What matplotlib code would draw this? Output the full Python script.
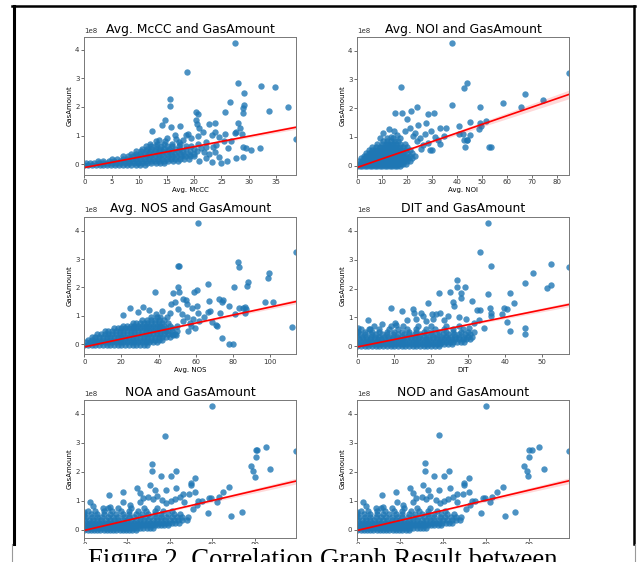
import numpy as np
import matplotlib.pyplot as plt
from matplotlib.lines import Line2D
from matplotlib.patches import Rectangle
from matplotlib.ticker import MultipleLocator

plt.rcParams['font.family'] = ['DejaVu Sans']

# GasAmount values are in units of 1e8
# isolated points (x, y) and the dense cluster as rows (y, [x values])

# ---- Avg. McCC ----
mccc_pts = [
    (27.5, 4.23), (18.8, 3.23), (28.0, 2.84), (32.2, 2.72), (34.7, 2.69),
    (29.2, 2.49), (15.7, 2.28), (15.6, 2.02), (29.2, 2.08), (28.9, 1.98),
    (29.0, 1.80), (26.6, 2.17), (25.7, 1.81), (33.6, 1.87), (37.1, 2.00),
    (20.3, 1.81), (20.7, 1.76), (20.4, 1.56), (20.5, 1.40), (14.7, 1.53),
    (14.2, 1.37), (17.5, 1.34), (15.8, 1.31), (12.3, 1.16), (28.0, 1.43),
    (28.3, 1.28), (22.7, 1.40), (23.8, 1.43), (21.0, 1.28), (21.6, 1.14),
    (23.8, 1.14), (23.3, 1.02), (25.7, 1.04), (27.4, 1.08), (27.7, 1.11),
    (28.8, 1.06), (38.6, 0.88), (29.4, 0.58), (29.0, 0.61), (32.1, 0.58),
    (30.4, 0.48), (22.1, 0.22), (23.3, 0.08), (25.0, 0.05), (26.0, 0.11),
    (27.7, 0.22), (28.9, 0.25), (16.5, 1.02), (16.8, 0.88), (18.5, 1.02),
    (18.9, 1.06), (18.0, 0.85), (22.1, 0.79), (22.2, 0.61), (23.5, 0.61),
    (24.1, 0.67), (25.4, 0.81), (26.2, 0.55), (19.5, 0.92), (20.8, 0.70),
    (21.2, 0.55), (21.8, 0.42), (22.8, 0.35), (23.9, 0.43), (24.6, 0.25),
    (21.0, 0.12), (19.4, 0.62), (17.2, 0.78), (15.0, 0.93), (13.6, 0.86),
    (20.8, 0.98), (24.5, 0.95), (26.8, 0.80),
]
mccc_rows = [
    (-0.02, [0, 0.7, 1.4, 2.1, 2.8, 3.5, 4.2, 4.9, 5.6, 6.3, 7.0, 7.8, 8.6, 9.4, 10.2, 11.0]),
    (0.04, [0.3, 1.0, 1.8, 2.6, 3.4, 4.2, 5.0, 5.8, 6.6, 7.4, 8.2, 9.0, 9.8, 10.6, 11.4, 12.2, 13.0, 13.8, 14.6]),
    (0.10, [2.5, 3.5, 4.5, 5.5, 6.5, 7.3, 8.1, 8.9, 9.7, 10.5, 11.3, 12.1, 12.9, 13.7, 14.5, 15.3, 16.1, 17.0]),
    (0.18, [5.0, 6.0, 7.0, 7.8, 8.6, 9.4, 10.2, 11.0, 11.8, 12.6, 13.4, 14.2, 15.0, 15.8, 16.6, 17.4, 18.2, 19.0]),
    (0.27, [7.0, 8.0, 8.8, 9.6, 10.4, 11.2, 12.0, 12.8, 13.6, 14.4, 15.2, 16.0, 16.8, 17.6, 18.4, 19.2, 20.0]),
    (0.36, [8.5, 9.4, 10.2, 11.0, 11.8, 12.6, 13.4, 14.2, 15.0, 15.8, 16.6, 17.4, 18.2, 19.0, 20.0]),
    (0.45, [9.5, 10.4, 11.2, 12.0, 12.8, 13.6, 14.4, 15.2, 16.0, 17.0, 18.0, 19.2, 20.5]),
    (0.54, [10.5, 11.4, 12.2, 13.0, 13.8, 14.6, 15.5, 16.5, 17.5, 18.6, 20.0]),
    (0.63, [11.3, 12.2, 13.0, 14.0, 15.0, 16.0, 17.2, 18.5]),
    (0.72, [12.0, 13.2, 14.5, 16.0, 17.5]),
    (0.80, [13.0, 14.8]),
]
mccc_fit_x = [0, 10, 38.6]
mccc_fit_y = [-0.12, 0.245, 1.29]
mccc_fit_hw = [0.025, 0.01, 0.07]

# ---- Avg. NOI ----
noi_pts = [
    (38.0, 4.26), (17.5, 2.75), (44.2, 2.86), (42.8, 2.72), (38.2, 2.11),
    (67.2, 2.51), (74.7, 2.30), (85.0, 3.24), (58.4, 2.18), (65.9, 2.04),
    (49.4, 2.04), (24.0, 2.03), (15.3, 1.82), (17.9, 1.82), (21.7, 1.89),
    (28.4, 1.81), (30.8, 1.83), (20.1, 1.62), (45.1, 1.53), (40.8, 1.37),
    (33.1, 1.30), (35.5, 1.30), (49.1, 1.48), (49.8, 1.39), (48.9, 1.27),
    (51.8, 1.54), (24.4, 1.42), (27.7, 1.48), (12.7, 1.27), (14.6, 1.22),
    (19.0, 1.19), (10.3, 1.12), (9.0, 0.98), (40.8, 1.10), (42.4, 1.10),
    (42.8, 0.89), (44.2, 0.89), (43.2, 0.66), (52.7, 0.64), (53.5, 0.64),
    (30.1, 0.56), (29.0, 0.54), (25.0, 0.98), (27.0, 1.10), (32.4, 0.89),
    (33.3, 0.75), (25.4, 0.58), (24.0, 0.85), (26.2, 0.72), (28.2, 0.80),
    (22.5, 1.02), (23.2, 1.15), (21.0, 1.30), (29.5, 1.20), (31.2, 1.00),
    (35.0, 1.02), (16.0, 1.05), (13.5, 1.00), (45.3, 1.07), (44.0, 0.90),
]
noi_rows = [
    (-0.02, [0, 1, 2, 3, 4, 5, 6, 7, 8, 9, 10, 11, 12, 13, 14, 15, 16, 17]),
    (0.06, [0.5, 1.5, 2.5, 3.5, 4.5, 5.5, 6.5, 7.5, 8.5, 9.5, 10.5, 11.5, 12.5, 13.5, 14.5, 15.5, 16.5, 17.5, 18.5, 19.5]),
    (0.15, [0.8, 1.8, 2.8, 3.8, 4.8, 5.8, 6.8, 7.8, 8.8, 9.8, 10.8, 11.8, 12.8, 13.8, 14.8, 15.8, 16.8, 17.8, 18.8, 19.8, 21.0]),
    (0.25, [1.5, 2.5, 3.5, 4.5, 5.5, 6.5, 7.5, 8.5, 9.5, 10.5, 11.5, 12.5, 13.5, 14.5, 15.5, 16.5, 17.5, 18.5, 19.5, 20.5, 22.0]),
    (0.35, [2.5, 3.5, 4.5, 5.5, 6.5, 7.5, 8.5, 9.5, 10.5, 11.5, 12.5, 13.5, 14.5, 15.5, 16.5, 17.5, 18.5, 19.5, 21.0, 23.0]),
    (0.45, [3.5, 4.5, 5.5, 6.5, 7.5, 8.5, 9.5, 10.5, 11.5, 12.5, 13.5, 14.5, 15.5, 16.5, 17.5, 18.5, 20.0, 22.0]),
    (0.55, [4.5, 6.0, 7.0, 8.0, 9.0, 10.0, 11.0, 12.0, 13.0, 14.0, 15.0, 16.0, 17.0, 18.0, 19.5, 21.0]),
    (0.65, [6.0, 7.5, 9.0, 10.0, 11.0, 12.0, 13.0, 14.0, 15.0, 16.0, 17.0, 18.5, 20.0]),
    (0.75, [8.0, 10.0, 11.5, 12.5, 13.5, 14.5, 15.5, 17.0, 19.0]),
    (0.85, [10.5, 12.0, 13.5, 15.0, 16.5]),
    (0.95, [12.0, 14.5, 17.0]),
]
noi_fit_x = [0, 10, 85.0]
noi_fit_y = [-0.06, 0.24, 2.48]
noi_fit_hw = [0.03, 0.01, 0.15]

# ---- Avg. NOS ----
nos_pts = [
    (61.0, 4.28), (50.3, 2.77), (51.0, 2.75), (82.6, 2.88), (83.5, 2.73),
    (99.6, 2.52), (98.7, 2.32), (88.3, 2.18), (87.4, 2.05), (80.8, 2.03),
    (114.0, 3.26), (66.4, 2.11), (50.6, 2.03), (51.2, 1.83), (38.1, 1.82),
    (47.6, 1.80), (60.5, 1.89), (59.3, 1.84), (54.8, 1.56), (21.0, 1.01),
    (24.6, 1.29), (29.1, 1.13), (31.8, 1.30), (34.8, 1.21), (48.8, 1.47),
    (74.9, 1.56), (74.3, 1.48), (78.1, 1.36), (83.5, 1.27), (86.5, 1.09),
    (85.5, 1.27), (87.0, 1.25), (101.8, 1.47), (66.8, 1.12), (67.8, 1.15),
    (73.1, 1.09), (70.9, 0.68), (71.6, 0.62), (61.4, 1.09), (58.7, 0.88),
    (112.0, 0.59), (74.0, 0.21), (77.9, 0.0), (80.2, 0.0), (59.6, 0.56),
    (56.9, 0.74), (50.1, 0.62), (44.0, 0.45), (47.9, 0.33), (49.5, 0.33),
    (55.1, 1.41), (57.8, 1.29), (60.5, 1.35), (67.4, 1.52), (72.3, 1.58),
    (81.2, 1.05), (86.6, 1.32), (97.3, 1.47), (46.5, 1.41), (50.7, 1.23),
    (53.4, 1.58), (52.5, 1.05), (55.5, 0.95), (53.0, 0.80), (46.0, 1.10),
    (44.5, 0.95), (42.0, 1.15), (38.5, 1.05), (57.5, 0.62), (62.0, 0.80),
    (64.5, 0.95), (69.0, 0.78), (56.0, 0.45),
]
nos_rows = [
    (-0.02, [0, 2, 4, 6, 8, 10, 12, 14, 16, 18, 20, 22, 24, 26, 28, 30, 32, 34]),
    (0.06, [1, 3, 5, 7, 9, 11, 13, 15, 17, 19, 21, 23, 25, 27, 29, 31, 33, 35, 37, 39]),
    (0.15, [2, 4, 6, 8, 10, 12, 14, 16, 18, 20, 22, 24, 26, 28, 30, 32, 34, 36, 38, 40, 42]),
    (0.25, [4, 6, 8, 10, 12, 14, 16, 18, 20, 22, 24, 26, 28, 30, 32, 34, 36, 38, 40, 42, 44, 46]),
    (0.35, [7, 9, 11, 13, 15, 17, 19, 21, 23, 25, 27, 29, 31, 33, 35, 37, 39, 41, 43, 45, 47, 49]),
    (0.45, [11, 13, 15, 17, 19, 21, 23, 25, 27, 29, 31, 33, 35, 37, 39, 41, 43, 45, 47, 50]),
    (0.55, [16, 18, 20, 22, 24, 26, 28, 30, 32, 34, 36, 38, 40, 42, 44, 47]),
    (0.65, [21, 23, 25, 27, 29, 31, 33, 35, 37, 39, 41, 43, 46]),
    (0.75, [26, 28, 30, 32, 34, 36, 38, 40, 42, 45]),
    (0.85, [31, 34, 36, 38, 40, 43]),
    (0.95, [36, 39, 41]),
]
nos_fit_x = [0, 30, 114.0]
nos_fit_y = [-0.10, 0.32, 1.50]
nos_fit_hw = [0.03, 0.01, 0.08]

# ---- DIT ----
dit_pts = [
    (35.3, 4.28), (33.2, 3.26), (36.2, 2.77), (52.4, 2.86), (52.4, 2.14),
    (51.3, 2.03), (47.6, 2.54), (45.4, 2.20), (57.3, 2.74), (27.1, 2.31),
    (27.1, 2.06), (29.2, 2.06), (22.2, 1.86), (25.2, 1.89), (28.2, 1.86),
    (35.3, 1.82), (41.3, 1.86), (42.5, 1.49), (25.9, 1.53), (26.2, 1.40),
    (28.2, 1.66), (31.1, 1.57), (19.2, 1.49), (9.2, 1.31), (12.2, 1.23),
    (15.1, 1.28), (15.3, 1.17), (17.2, 1.17), (17.8, 1.05), (20.1, 1.11),
    (21.2, 1.11), (22.3, 1.17), (32.3, 1.26), (33.2, 1.26), (35.9, 1.34),
    (36.3, 1.17), (36.1, 1.05), (39.8, 1.31), (40.4, 1.28), (39.1, 1.11),
    (40.4, 0.85), (34.4, 0.65), (45.4, 0.62), (45.4, 0.42), (41.3, 0.54),
    (2.9, 0.92), (6.8, 0.77), (0.2, 0.65), (0.2, 0.48), (3.2, 0.60),
    (10.1, 0.82), (10.6, 0.74), (13.5, 0.92), (16.0, 0.95), (18.5, 0.88),
    (20.5, 0.95), (23.5, 0.90), (24.5, 1.05), (27.5, 1.00), (29.5, 0.95),
    (31.5, 0.80), (33.0, 0.90), (30.2, 0.62), (31.5, 0.50),
]
dit_rows = [
    (0.0, [0, 1, 2, 3, 4, 5, 6, 7, 8, 9, 10, 11, 12, 13, 14, 15, 16, 17, 18, 19, 20, 21, 22]),
    (0.08, [0.5, 1.5, 2.5, 3.5, 4.5, 5.5, 6.5, 7.5, 8.5, 9.5, 10.5, 11.5, 12.5, 13.5, 14.5, 15.5,
            16.5, 17.5, 18.5, 19.5, 20.5, 21.5, 22.5, 23.5, 24.5, 25.5]),
    (0.16, [0, 1, 2, 3, 4, 5, 6, 7, 8, 9, 10, 11, 12, 13, 14, 15, 16, 17, 18, 19, 20, 21, 22, 23,
            24, 25, 26, 27, 28, 29]),
    (0.24, [0.5, 1.5, 2.5, 3.5, 4.5, 5.5, 6.5, 7.5, 8.5, 9.5, 10.5, 11.5, 12.5, 13.5, 14.5, 15.5,
            16.5, 17.5, 18.5, 19.5, 20.5, 21.5, 22.5, 23.5, 24.5, 25.5, 26.5, 27.5, 28.5, 29.5, 30.5]),
    (0.32, [0, 1.2, 2.4, 3.6, 4.8, 6.0, 7.2, 8.4, 9.6, 10.8, 12.0, 13.2, 14.4, 15.6, 16.8, 18.0,
            19.2, 20.4, 21.6, 22.8, 24.0, 25.2, 26.4, 27.6, 28.8, 30.0, 31.0]),
    (0.41, [0.6, 2.1, 3.6, 5.1, 6.6, 8.1, 9.6, 11.1, 12.6, 14.1, 15.6, 17.1, 18.6, 20.1, 21.6,
            23.1, 24.6, 26.1, 27.6, 29.1, 30.5]),
    (0.50, [0, 2, 4, 6, 8, 10, 12, 14, 16, 18, 20, 22, 24, 26, 28, 30]),
    (0.60, [1.0, 3.5, 6.0, 8.5, 11.0, 13.5, 16.0, 18.5, 21.0, 23.5, 26.0, 28.5]),
    (0.70, [4.5, 9.0, 12.5, 16.5, 20.0, 24.0, 27.5]),
]
dit_fit_x = [0, 15, 57.3]
dit_fit_y = [-0.02, 0.365, 1.45]
dit_fit_hw = [0.03, 0.01, 0.08]

# ---- NOA ----
noa_pts = [
    (60.0, 4.26), (37.8, 3.25), (85.2, 2.85), (80.3, 2.76), (81.1, 2.76),
    (80.3, 2.51), (78.0, 2.19), (78.9, 2.03), (80.0, 1.83), (87.0, 2.11),
    (99.2, 2.71), (31.6, 2.28), (31.6, 2.03), (42.8, 2.02), (35.8, 1.84),
    (40.5, 1.84), (51.9, 1.80), (50.0, 1.63), (50.0, 1.54), (30.8, 1.54),
    (38.1, 1.37), (33.1, 1.37), (24.5, 1.45), (26.1, 1.28), (18.0, 1.29),
    (11.7, 1.20), (43.1, 1.43), (51.9, 1.31), (44.8, 1.14), (42.5, 1.05),
    (40.5, 0.98), (38.5, 0.92), (49.2, 1.23), (58.6, 1.08), (59.4, 1.08),
    (68.0, 1.46), (65.2, 1.31), (62.0, 0.97), (73.8, 0.63), (68.8, 0.49),
    (57.8, 0.57), (2.7, 0.95), (4.2, 0.82), (0.0, 0.63), (0.0, 0.47),
    (8.9, 0.74), (12.0, 0.80), (18.3, 0.95), (21.4, 0.86), (26.1, 0.97),
    (52.7, 0.86), (50.8, 0.70), (32.0, 1.05), (34.0, 1.15), (30.0, 1.12),
    (36.5, 1.02), (27.5, 1.10), (46.5, 0.95), (55.0, 1.00), (63.0, 1.12),
    (46.4, 1.23), (53.4, 0.99),
]
noa_rows = [
    (-0.02, [0, 1.5, 3, 4.5, 6, 7.5, 9, 10.5, 12, 13.5, 15, 16.5, 18, 19.5, 21, 22.5, 24]),
    (0.06, [0.7, 2.2, 3.7, 5.2, 6.7, 8.2, 9.7, 11.2, 12.7, 14.2, 15.7, 17.2, 18.7, 20.2, 21.7,
            23.2, 24.7, 26.2, 27.7, 29.2, 30.7, 32.2]),
    (0.15, [0, 1.5, 3, 4.5, 6, 7.5, 9, 10.5, 12, 13.5, 15, 16.5, 18, 19.5, 21, 22.5, 24, 25.5,
            27, 28.5, 30, 31.5, 33, 34.5, 36, 37.5, 39]),
    (0.25, [0.7, 2.2, 3.7, 5.2, 6.7, 8.2, 9.7, 11.2, 12.7, 14.2, 15.7, 17.2, 18.7, 20.2, 21.7,
            23.2, 24.7, 26.2, 27.7, 29.2, 30.7, 32.2, 33.7, 35.2, 36.7, 38.2, 39.7, 41.2, 42.7, 44.2]),
    (0.35, [0, 2, 4, 6, 8, 10, 12, 14, 16, 18, 20, 22, 24, 26, 28, 30, 32, 34, 36, 38, 40, 42,
            44, 46, 48]),
    (0.45, [1, 3.5, 6, 8.5, 11, 13.5, 16, 18.5, 21, 23.5, 26, 28.5, 31, 33.5, 36, 38.5, 41, 43.5,
            46, 48.5]),
    (0.55, [0, 3, 6, 9, 12, 15, 18, 21, 24, 27, 30, 33, 36, 39, 42, 45]),
    (0.65, [1.5, 5, 9, 13, 17, 21, 25, 29, 33, 37, 41]),
    (0.75, [11, 16, 22, 28, 34]),
]
noa_fit_x = [0, 25, 99.2]
noa_fit_y = [-0.02, 0.41, 1.68]
noa_fit_hw = [0.03, 0.01, 0.10]

# ---- NOD ----
nod_pts = [
    (60.0, 4.26), (38.0, 3.26), (85.0, 2.85), (80.2, 2.76), (81.3, 2.76),
    (80.2, 2.52), (77.8, 2.20), (79.0, 2.03), (79.8, 1.85), (87.3, 2.10),
    (98.8, 2.71), (31.8, 2.30), (31.8, 2.03), (42.9, 2.02), (36.0, 1.85),
    (40.6, 1.85), (52.0, 1.80), (50.0, 1.63), (50.0, 1.54), (30.8, 1.54),
    (38.1, 1.37), (33.1, 1.37), (24.5, 1.45), (26.1, 1.28), (18.0, 1.29),
    (11.7, 1.20), (43.1, 1.43), (51.9, 1.31), (44.8, 1.14), (42.5, 1.05),
    (40.5, 0.98), (38.5, 0.92), (49.2, 1.23), (58.6, 1.08), (59.4, 1.08),
    (68.0, 1.46), (65.2, 1.31), (62.0, 0.97), (73.8, 0.63), (68.8, 0.49),
    (57.8, 0.57), (2.7, 0.95), (4.2, 0.82), (0.0, 0.63), (0.0, 0.47),
    (8.9, 0.74), (12.0, 0.80), (18.3, 0.95), (21.4, 0.86), (26.1, 0.97),
    (52.7, 0.86), (50.8, 0.70), (32.0, 1.05), (34.0, 1.15), (30.0, 1.12),
    (36.5, 1.02), (27.5, 1.10), (46.5, 0.95), (55.0, 1.00), (63.0, 1.12),
    (46.4, 1.23), (53.4, 0.99),
]
nod_rows = noa_rows  # the NOA and NOD clusters read the same off the picture
nod_fit_x = [0, 25, 98.8]
nod_fit_y = [-0.02, 0.41, 1.69]
nod_fit_hw = [0.03, 0.01, 0.10]


def collect(pts, rows):
    xs = [p[0] for p in pts]
    ys = [p[1] for p in pts]
    for y, row in rows:
        xs += row
        ys += [y] * len(row)
    return np.array(xs, dtype=float), np.array(ys, dtype=float) * 1e8


panels = [
    ('Avg. McCC', mccc_pts, mccc_rows, mccc_fit_x, mccc_fit_y, mccc_fit_hw, 5),
    ('Avg. NOI', noi_pts, noi_rows, noi_fit_x, noi_fit_y, noi_fit_hw, 10),
    ('Avg. NOS', nos_pts, nos_rows, nos_fit_x, nos_fit_y, nos_fit_hw, 20),
    ('DIT', dit_pts, dit_rows, dit_fit_x, dit_fit_y, dit_fit_hw, 10),
    ('NOA', noa_pts, noa_rows, noa_fit_x, noa_fit_y, noa_fit_hw, 20),
    ('NOD', nod_pts, nod_rows, nod_fit_x, nod_fit_y, nod_fit_hw, 20),
]

W, H = 644, 562
fig = plt.figure(figsize=(W / 100, H / 100), dpi=100)

# axes boxes in pixels (left, top) of the screenshot
lefts = [84.3, 357.3]
tops = [37, 216.5, 400]
aw, ah = 211.7, 137.5

for i, (name, pts, rows, fx, fy, fhw, step) in enumerate(panels):
    l = lefts[i % 2]
    t = tops[i // 2]
    ax = fig.add_axes([l / W, 1 - (t + ah) / H, aw / W, ah / H])
    xs, ys = collect(pts, rows)
    ax.scatter(xs, ys, s=21, color='#1f77b4', alpha=0.8, linewidths=0)
    fx = np.array(fx)
    fy = np.array(fy) * 1e8
    fhw = np.array(fhw) * 1e8
    ax.fill_between(fx, fy - fhw, fy + fhw, color='red', alpha=0.15, lw=0)
    ax.plot(fx, fy, color='red', lw=1.2)
    ax.set_xlim(xs.min(), xs.max())
    ax.xaxis.set_major_locator(MultipleLocator(step))
    ax.yaxis.set_major_locator(MultipleLocator(1e8))
    ax.set_title(name + ' and GasAmount', fontsize=8.9, pad=3)
    ax.set_xlabel(name, fontsize=5, labelpad=1.5)
    ax.set_ylabel('GasAmount', fontsize=5, labelpad=2)
    ax.tick_params(labelsize=5, length=2, width=0.5, pad=1.5, colors='#333333')
    ax.yaxis.get_offset_text().set_fontsize(5)
    for sp in ax.spines.values():
        sp.set_color('#777777')
        sp.set_linewidth(0.7)

# page frame around the figure
def px_line(x0, y0, x1, y1, color, lw, z):
    fig.add_artist(Line2D([x0 / W, x1 / W], [1 - y0 / H, 1 - y1 / H],
                          transform=fig.transFigure, color=color, lw=lw, zorder=z))

# caption strip covers the bottom of the last row
fig.add_artist(Rectangle((0, 0), 1, 1 - 544 / H, transform=fig.transFigure,
                         facecolor='white', edgecolor='none', zorder=10))
px_line(13.5, 5.5, 13.5, 543.5, 'black', 2.2, 11)
px_line(12.5, 5.5, 635, 5.5, 'black', 1.8, 11)
px_line(634, 5.5, 634, 543.5, 'black', 1.8, 11)
px_line(12.5, 543.5, 12.5, 562, '#999999', 0.8, 11)
px_line(634.5, 543.5, 634.5, 562, '#999999', 0.8, 11)

fig.text(88 / W, 1 - 567 / H, 'Figure 2. Correlation Graph Result between',
         family='Liberation Serif', fontsize=19.3, ha='left', va='baseline', zorder=12)

plt.savefig('out.png', dpi=100)
